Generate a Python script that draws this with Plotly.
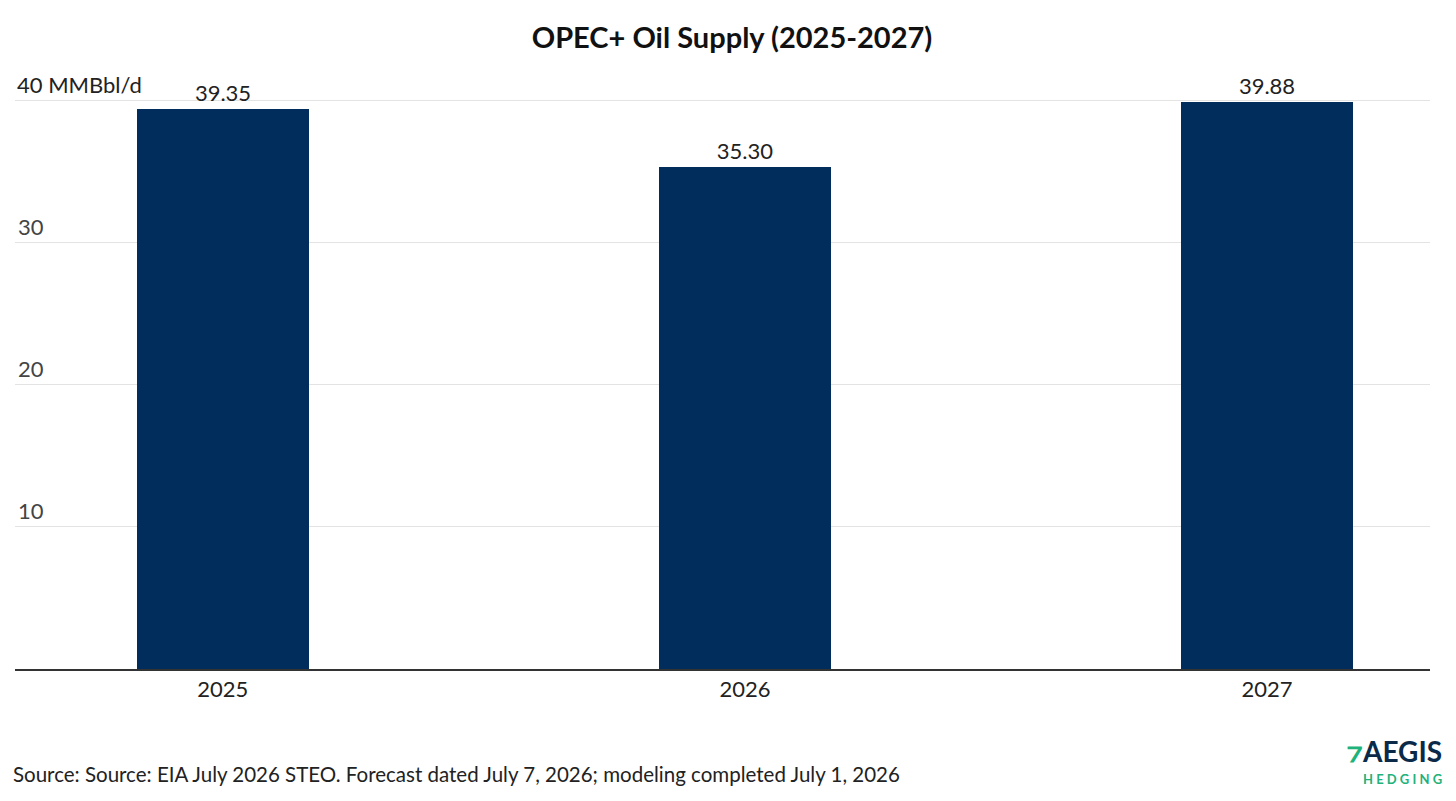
import plotly.graph_objects as go

years = ["2025", "2026", "2027"]
supply = [39.35, 35.30, 39.88]
tick_vals = [10, 20, 30, 40]
tick_text = ["10", "20", "30", ""]
top_label = "40 MMBbl/d"

fig = go.Figure()
fig.add_trace(go.Bar(
    x=[0, 1, 2], y=supply, width=0.33,
    marker=dict(color="#002D5B", line=dict(width=0)),
    text=[f"{v:.2f}" for v in supply], textposition="outside",
    textfont=dict(size=22, color="#222"), cliponaxis=False,
))

# page body adds 8px margin, so size the figure to fit
fig.update_layout(
    width=1448, height=793,
    margin=dict(l=7, r=26, t=78, b=132),
    plot_bgcolor="white", paper_bgcolor="white",
    font=dict(family="Lato, sans-serif", color="#222"),
    title=dict(text="<b>OPEC+ Oil Supply (2025-2027)</b>", x=0.5, y=0.975,
               xanchor="center", font=dict(size=29, color="#111")),
    showlegend=False,
    bargap=0,
    uniformtext=dict(minsize=8),
)
fig.update_traces(textangle=0, outsidetextfont=dict(size=22))
fig.update_xaxes(
    range=[-0.398, 2.312], tickvals=[0, 1, 2], ticktext=years,
    tickfont=dict(size=22), showgrid=False, showline=True,
    linecolor="#333", linewidth=1.5, ticks="",
)
fig.update_yaxes(
    range=[0, 41], tickvals=tick_vals, ticktext=tick_text,
    ticklabelposition="inside top", tickfont=dict(size=22),
    showgrid=True, gridcolor="#e3e3e3", zeroline=False,
)
fig.add_annotation(
    text=top_label, xref="paper", yref="y", x=0, y=40,
    xanchor="left", yanchor="bottom", showarrow=False,
    font=dict(size=22, color="#222"),
)
fig.add_annotation(
    text="Source: Source: EIA July 2026 STEO. Forecast dated July 7, 2026; modeling completed July 1, 2026",
    xref="paper", yref="paper", x=0, y=0, xanchor="left", yanchor="middle",
    showarrow=False, font=dict(size=20.5, color="#222"), xshift=-4, yshift=-105,
)
fig.add_annotation(
    text="<b><span style='color:#1fb27a'>⁊</span>AEGIS</b>",
    xref="paper", yref="paper", x=1, y=0, xanchor="right", yanchor="middle",
    showarrow=False, font=dict(size=28, color="#0b2a4a"), xshift=14, yshift=-82,
)
fig.add_annotation(
    text="<b>H E D G I N G</b>",
    xref="paper", yref="paper", x=1, y=0, xanchor="right", yanchor="middle",
    showarrow=False, font=dict(size=13, color="#1fb27a"), xshift=14, yshift=-110,
)

fig.write_html("out.html")
